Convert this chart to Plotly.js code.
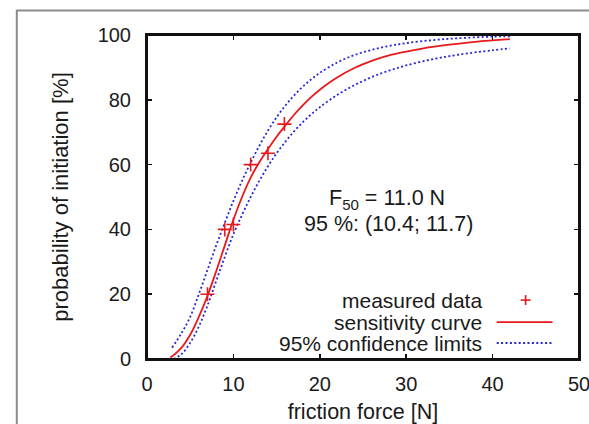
<!DOCTYPE html>
<html>
<head>
<meta charset="utf-8">
<script src="https://cdn.plot.ly/plotly-3.0.1.min.js"></script>
<style>html,body{margin:0;padding:0;background:#fff;}#chart{width:589px;height:424px;}</style>
</head>
<body>
<div id="chart"></div>
<script>
// measured data
const measX = [7, 9, 10, 12, 14, 15.9];
const measY = [20, 40, 41.5, 60, 63.5, 72.5];
// sensitivity curve
const curveX = [2.7, 3, 4, 5, 6, 7, 8, 9, 10, 11, 12, 13, 14, 15, 16, 17, 18, 19, 20, 21, 22, 24, 26, 28, 30, 32, 35, 38, 42];
const curveY = [0.5, 1, 3.5, 7.5, 13, 19.5, 27, 35, 43, 50, 56, 60.7, 64.8, 68.6, 72, 75.3, 78.2, 80.8, 83.1, 85.1, 86.9, 89.8, 92, 93.7, 94.9, 95.9, 97, 97.9, 98.7];
// upper 95% confidence limit
const upperX = [2.9, 4, 5, 6, 7, 8, 9, 10, 11, 12, 13, 14, 15, 16, 17, 18, 19, 20, 22, 24, 26, 28, 30, 33, 36, 40, 42];
const upperY = [3.5, 8, 13, 20, 27.5, 35, 42, 48.8, 55, 60.6, 65.8, 70.5, 74.6, 78.2, 81.3, 84, 86.3, 88.3, 91.5, 93.8, 95.4, 96.6, 97.5, 98.4, 99, 99.5, 99.6];
// lower 95% confidence limit
const lowerX = [3.1, 4, 5, 6, 7, 8, 9, 10, 11, 12, 13, 14, 15, 16, 17, 18, 19, 20, 22, 24, 26, 28, 30, 33, 36, 40, 42];
const lowerY = [0, 1.5, 5, 10, 16.5, 24, 31.5, 38.5, 44.5, 50, 55, 59.5, 63.5, 67, 70.2, 73, 75.5, 77.7, 81.5, 84.5, 87, 89, 90.6, 92.5, 93.9, 95.3, 95.9];
// axes
const xTicks = [0, 10, 20, 30, 40, 50];
const yTicks = [0, 20, 40, 60, 80, 100];
const legendLabels = ["measured data", "sensitivity curve", "95% confidence limits"];

const RED = '#e8191c';
const BLUE = '#2626d6';
const FONT = 'Liberation Sans, Arial, sans-serif';
const TXT = '#1a1a1a';

const traces = [
  {x: lowerX, y: lowerY, mode: 'lines', line: {color: BLUE, width: 1.8, dash: '2px,2.4px', shape: 'spline'}, hoverinfo: 'skip'},
  {x: upperX, y: upperY, mode: 'lines', line: {color: BLUE, width: 1.8, dash: '2px,2.4px', shape: 'spline'}, hoverinfo: 'skip'},
  {x: curveX, y: curveY, mode: 'lines', line: {color: RED, width: 1.8, shape: 'spline'}},
  {x: measX, y: measY, mode: 'markers', marker: {symbol: 'cross-thin', size: 10, color: RED, line: {color: RED, width: 1.6}}}
];

// plot box in pixels
const L = 146.5, R = 579.5, T = 34.5, B = 359;
const px = v => (v - L) / (R - L);
const py = v => (B - v) / (B - T);

const legRows = [300, 322, 343];
const annotations = [
  {xref: 'paper', yref: 'paper', x: px(387), y: py(199), xanchor: 'center', yanchor: 'middle', showarrow: false,
   text: 'F<sub>50</sub> = 11.0 N', font: {family: FONT, size: 21.5, color: TXT}},
  {xref: 'paper', yref: 'paper', x: px(389), y: py(224), xanchor: 'center', yanchor: 'middle', showarrow: false,
   text: '95 %: (10.4; 11.7)', font: {family: FONT, size: 21.5, color: TXT}}
];
legendLabels.forEach((t, i) => annotations.push({
  xref: 'paper', yref: 'paper', x: px(484), y: py(legRows[i]), xanchor: 'right', yanchor: 'middle',
  showarrow: false, text: t, font: {family: FONT, size: 21, color: TXT}
}));

const shapes = [
  // outer gray frame
  {type: 'rect', xref: 'paper', yref: 'paper', x0: px(16), x1: px(640), y0: py(480), y1: py(10),
   line: {color: '#8c8c8c', width: 2}, fillcolor: 'rgba(0,0,0,0)', layer: 'below'},
  // plot border
  {type: 'rect', xref: 'paper', yref: 'paper', x0: 0, x1: 1, y0: 0, y1: 1,
   line: {color: '#111', width: 2}, fillcolor: 'rgba(0,0,0,0)', layer: 'above'},
  // legend samples
  {type: 'line', xref: 'paper', yref: 'paper', x0: px(497), x1: px(553), y0: py(legRows[1]), y1: py(legRows[1]), line: {color: RED, width: 1.8}},
  {type: 'line', xref: 'paper', yref: 'paper', x0: px(497), x1: px(553), y0: py(legRows[2]), y1: py(legRows[2]), line: {color: BLUE, width: 1.8, dash: '2px,2.4px'}},
  {type: 'line', xref: 'paper', yref: 'paper', x0: px(521), x1: px(531), y0: py(legRows[0]), y1: py(legRows[0]), line: {color: RED, width: 1.6}},
  {type: 'line', xref: 'paper', yref: 'paper', x0: px(526), x1: px(526), y0: py(legRows[0] - 5), y1: py(legRows[0] + 5), line: {color: RED, width: 1.6}}
];

const axisCommon = {
  showgrid: false, zeroline: false, showline: true, linecolor: '#111', linewidth: 2, mirror: 'allticks',
  ticks: 'inside', ticklen: 5, tickwidth: 1.5, tickcolor: '#111', ticklabeloverflow: 'allow',
  tickfont: {family: FONT, size: 20, color: TXT}
};

const layout = {
  width: 589, height: 424,
  margin: {l: L, r: 589 - R, t: T, b: 424 - B, pad: 0},
  paper_bgcolor: '#fff', plot_bgcolor: '#fff',
  showlegend: false,
  xaxis: Object.assign({}, axisCommon, {
    range: [0, 50], tickmode: 'array', tickvals: xTicks, ticktext: xTicks.map(String), ticklabelstandoff: 6,
    title: {text: 'friction force [N]', font: {family: FONT, size: 21.5, color: TXT}, standoff: 11}
  }),
  yaxis: Object.assign({}, axisCommon, {
    range: [0, 100], tickmode: 'array', tickvals: yTicks, ticktext: yTicks.map(String), ticklabelstandoff: 10,
    title: {text: 'probability of initiation [%]', font: {family: FONT, size: 22, color: TXT}, standoff: 23}
  }),
  annotations: annotations,
  shapes: shapes
};

Plotly.newPlot('chart', traces, layout, {staticPlot: true, displayModeBar: false});
</script>
</body>
</html>
